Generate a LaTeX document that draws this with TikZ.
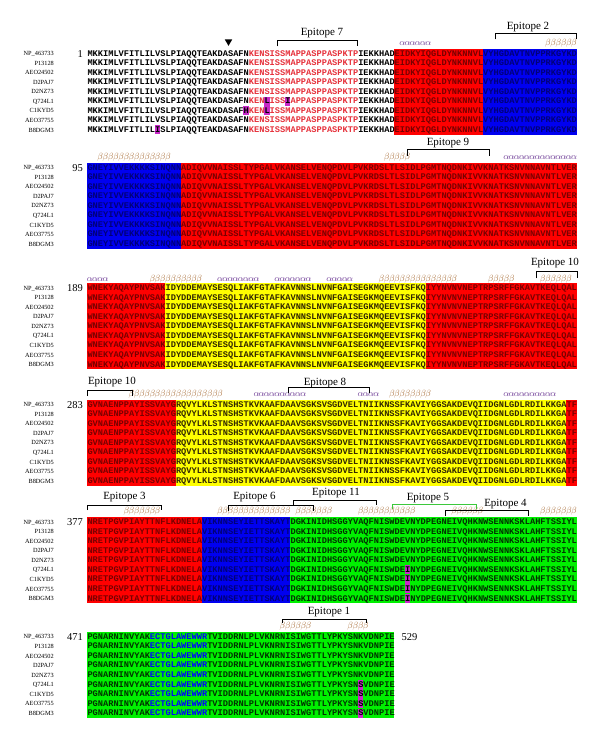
\documentclass[tikz,border=0pt]{standalone}
\usepackage{fontspec}
\setmainfont{Liberation Serif}
\newfontfamily\seqfont{Liberation Mono}
\definecolor{bred}{RGB}{255,0,0}
\definecolor{bblue}{RGB}{0,0,240}
\definecolor{byel}{RGB}{255,255,0}
\definecolor{bgrn}{RGB}{0,240,0}
\definecolor{hlm}{RGB}{200,40,200}
\definecolor{eptxt}{RGB}{230,50,60}
\definecolor{tred}{RGB}{120,0,0}
\definecolor{tblue}{RGB}{0,0,120}
\definecolor{tyel}{RGB}{50,40,0}
\definecolor{tgrn}{RGB}{0,50,0}
\definecolor{seqblue}{RGB}{0,0,255}
\definecolor{alcol}{RGB}{110,60,150}
\definecolor{becol}{RGB}{175,120,70}
\definecolor{ep5}{RGB}{60,200,60}
\newcommand\er[1]{\textcolor{eptxt}{#1}}
\newcommand\onr[1]{\textcolor{tred}{#1}}
\newcommand\onb[1]{\textcolor{tblue}{#1}}
\newcommand\ony[1]{\textcolor{tyel}{#1}}
\newcommand\ong[1]{\textcolor{tgrn}{#1}}
\newcommand\bk[1]{\textcolor{black}{#1}}
\newcommand\colbox[4]{\fill[#1] ({87.3+(#3-1)*5.206},{#2-4.8}) rectangle ({87.3+#4*5.206},{#2+81.2});}
\newcommand\hlcell[3]{\fill[hlm] ({87.3+(#3-1)*5.206},{#1+#2*9.55-4.6}) rectangle ({87.3+#3*5.206},{#1+#2*9.55+4.6});}
\newcommand\seqrow[3]{\node[seq] at (87.3,{#1+#2*9.55+2.6}) {#3};}
\newcommand\sslist[5]{\foreach \k in {#4,...,#5}{\node[ssym,text=#2] at ({87.3+(\k-0.5)*5.206},{#3+2}) {#1};}}
\newcommand\brk[5]{\draw[brkline,#5] (#1,#4) -- (#1,#3) -- (#2,#3) -- (#2,#4);}
\newcommand\names[1]{\foreach \nm [count=\r from 0] in {NP\_463733,P13128,AEO24502,D2PAJ7,D2NZ73,Q724L1,C1KYD5,AEO37755,B8DGM3}{\node[nm] at (54,{#1+\r*9.55+2.2}) {\nm};}}
\newcommand\Bone[5]{#1\er{#2}#3\onr{#4}\onb{#5}}
\newcommand\Btwo{\onb{GNEYIVVEKKKKSINQNN}\onr{ADIQVVNAISSLTYPGALVKANSELVENQPDVLPVKRDSLTLSIDLPGMTNQDNKIVVKNATKSNVNNAVNTLVER}}
\newcommand\Bthree{\onr{WNEKYAQAYPNVSAK}\ony{IDYDDEMAYSESQLIAKFGTAFKAVNNSLNVNFGAISEGKMQEEVISFKQ}\onr{IYYNVNVNEPTRPSRFFGKAVTKEQLQAL}}
\newcommand\Bfour{\onr{GVNAENPPAYISSVAYG}\ony{RQVYLKLSTNSHSTKVKAAFDAAVSGKSVSGDVELTNIIKNSSFKAVIYGGSAKDEVQIIDGNLGDLRDILKKGA}\onr{TF}}
\newcommand\Bfive[1]{\onr{NRETPGVPIAYTTNFLKDNELA}\onb{VIKNNSEYIETTSKAYT}\ong{DGKINIDHSGGYVAQFNISWDE#1NYDPEGNEIVQHKNWSENNKSKLAHFTSSIYL}}
\newcommand\Bsix[1]{\ong{PGNARNINVYAK}\textcolor{seqblue}{ECTGLAWEWWR}\ong{TVIDDRNLPLVKNRNISIWGTTLYPKYSN#1VDNPIE}}
\begin{document}
\begin{tikzpicture}[x=1pt,y=-1pt,
  seq/.style={anchor=base west,inner sep=0,font=\seqfont\bfseries\fontsize{8.677}{9}\selectfont},
  ssym/.style={anchor=base,inner sep=0,font=\fontsize{9}{9}\selectfont\itshape},
  nm/.style={anchor=base east,inner sep=0,font=\fontsize{6.3}{6.3}\selectfont},
  num/.style={anchor=base east,inner sep=0,font=\fontsize{10.5}{10.5}\selectfont},
  eplab/.style={anchor=base,inner sep=0,font=\fontsize{11}{11}\selectfont},
  brkline/.style={line width=0.9pt,black}]
\fill[white] (0,0) rectangle (600,738);
\useasboundingbox (0,0) rectangle (600,738);
% ---------------- block 1
\def\yb{53.5}
\colbox{bred}{\yb}{60}{76}
\colbox{bblue}{\yb}{77}{94}
\hlcell{\yb}{5}{35}\hlcell{\yb}{5}{39}
\hlcell{\yb}{6}{31}\hlcell{\yb}{6}{35}
\hlcell{\yb}{8}{14}
\foreach \r in {0,1,2,3,4,7}{\seqrow{\yb}{\r}{\Bone{MKKIMLVFITLILVSLPIAQQTEAKDASAFN}{KENSISSMAPPASPPASPKTP}{IEKKHAD}{EIDKYIQGLDYNKNNVL}{VYHGDAVTNVPPRKGYKD}}}
\seqrow{\yb}{5}{\Bone{MKKIMLVFITLILVSLPIAQQTEAKDASAFN}{KEN\bk{L}ISS\bk{I}APPASPPASPKTP}{IEKKHAD}{EIDKYIQGLDYNKNNVL}{VYHGDAVTNVPPRKGYKD}}
\seqrow{\yb}{6}{\Bone{MKKIMLVFITLILVSLPIAQQTEAKDASAF\bk{H}}{KEN\bk{L}ISSMAPPASPPASPKTP}{IEKKHAD}{EIDKYIQGLDYNKNNVL}{VYHGDAVTNVPPRKGYKD}}
\seqrow{\yb}{8}{\Bone{MKKIMLVFITLIL\bk{I}SLPIAQQTEAKDASAFN}{KENSISSMAPPASPPASPKTP}{IEKKHAD}{EIDKYIQGLDYNKNNVL}{VYHGDAVTNVPPRKGYKD}}
\names{\yb}
\node[num] (n1) at (83,{\yb+3.6}) {1};
\sslist{$\alpha$}{alcol}{43.5}{61}{66}
\sslist{$\beta$}{becol}{43.5}{89}{94}
\fill (224.8,39.5) -- (232.2,39.5) -- (228.5,45.8) -- cycle;
\brk{277.3}{357.3}{40.7}{46.5}{}
\node[eplab] (e7) at (322,35.8) {Epitope 7};
\brk{495}{576}{33.3}{39.3}{}
\node[eplab] (e2) at (528,29.2) {Epitope 2};
% ---------------- block 2
\def\yb{167.5}
\colbox{bblue}{\yb}{1}{18}
\colbox{bred}{\yb}{19}{94}
\foreach \r in {0,...,8}{\seqrow{\yb}{\r}{\Btwo}}
\names{\yb}
\node[num] (n95) at (83,{\yb+3.6}) {95};
\sslist{$\beta$}{becol}{157.5}{3}{16}
\sslist{$\beta$}{becol}{157.5}{58}{62}
\sslist{$\alpha$}{alcol}{157.5}{81}{94}
\brk{407.7}{489}{149.3}{156}{}
\node[eplab] (e9) at (448,145.8) {Epitope 9};
% ---------------- block 3
\def\yb{288}
\colbox{bred}{\yb}{1}{15}
\colbox{byel}{\yb}{16}{65}
\colbox{bred}{\yb}{66}{94}
\foreach \r in {0,...,8}{\seqrow{\yb}{\r}{\Bthree}}
\names{\yb}
\node[num] (n189) at (83,{\yb+3.6}) {189};
\sslist{$\alpha$}{alcol}{279}{1}{4}
\sslist{$\beta$}{becol}{279}{13}{22}
\sslist{$\alpha$}{alcol}{279}{26}{33}
\sslist{$\alpha$}{alcol}{279}{37}{43}
\sslist{$\alpha$}{alcol}{279}{47}{51}
\sslist{$\beta$}{becol}{279}{57}{71}
\sslist{$\beta$}{becol}{279}{78}{82}
\sslist{$\beta$}{becol}{279}{88}{93}
\brk{536.7}{577.7}{271.7}{278.3}{}
\node[eplab] (e10a) at (555,265.8) {Epitope 10};
% ---------------- block 4
\def\yb{404.5}
\colbox{bred}{\yb}{1}{17}
\colbox{byel}{\yb}{18}{92}
\colbox{bred}{\yb}{93}{94}
\foreach \r in {0,...,8}{\seqrow{\yb}{\r}{\Bfour}}
\names{\yb}
\node[num] (n283) at (83,{\yb+3.6}) {283};
\sslist{$\beta$}{becol}{394.5}{9}{26}
\sslist{$\alpha$}{alcol}{394.5}{33}{42}
\sslist{$\alpha$}{alcol}{394.5}{53}{56}
\sslist{$\beta$}{becol}{394.5}{59}{66}
\sslist{$\alpha$}{alcol}{394.5}{81}{90}
\brk{87.3}{132.7}{390}{396}{}
\node[eplab] (e10b) at (112,384.2) {Epitope 10};
\brk{288.3}{369.3}{387.3}{393.3}{}
\node[eplab] (e8) at (325,385.8) {Epitope 8};
% ---------------- block 5
\def\yb{522}
\colbox{bred}{\yb}{1}{22}
\colbox{bblue}{\yb}{23}{39}
\colbox{bgrn}{\yb}{40}{94}
\foreach \r in {5,...,8}{\hlcell{\yb}{\r}{62}}
\foreach \r in {0,...,4}{\seqrow{\yb}{\r}{\Bfive{V}}}
\foreach \r in {5,...,8}{\seqrow{\yb}{\r}{\Bfive{\bk{I}}}}
\names{\yb}
\node[num] (n377) at (83,{\yb+3.6}) {377};
\sslist{$\beta$}{becol}{511.7}{8}{14}
\sslist{$\beta$}{becol}{511.7}{26}{39}
\sslist{$\beta$}{becol}{511.7}{41}{47}
\sslist{$\beta$}{becol}{511.7}{53}{63}
\sslist{$\beta$}{becol}{511.7}{71}{76}
\sslist{$\beta$}{becol}{511.7}{88}{94}
\brk{87.3}{161.7}{505}{510}{}
\node[eplab] (e3) at (124.5,499.2) {Epitope 3};
\brk{228.3}{313.3}{505}{510.5}{}
\node[eplab] (e6) at (254.5,499.2) {Epitope 6};
\brk{293.3}{376.7}{500}{505}{}
\node[eplab] (e11) at (336,495.8) {Epitope 11};
\brk{392.7}{476}{504.3}{509.3}{ep5}
\node[eplab] (e5) at (428,500.2) {Epitope 5};
\brk{445}{528.3}{510}{516}{}
\node[eplab] (e4) at (505.5,506.8) {Epitope 4};
% ---------------- block 6
\def\yb{636.7}
\fill[bgrn] ({87.3},{\yb-4.8}) rectangle ({87.3+59*5.206},{\yb+81.2});
\foreach \r in {5,...,8}{\hlcell{\yb}{\r}{53}}
\foreach \r in {0,...,4}{\seqrow{\yb}{\r}{\Bsix{K}}}
\foreach \r in {5,...,8}{\seqrow{\yb}{\r}{\Bsix{\bk{S}}}}
\names{\yb}
\node[num] (n471) at (83,{\yb+3.6}) {471};
\node[num,anchor=base west] (n529) at (401.5,{\yb+3.6}) {529};
\sslist{$\beta$}{becol}{626.7}{38}{43}
\sslist{$\beta$}{becol}{626.7}{51}{54}
\brk{282.3}{366}{619}{623.3}{}
\node[eplab] (e1) at (329,614.2) {Epitope 1};
\end{tikzpicture}
\end{document}
